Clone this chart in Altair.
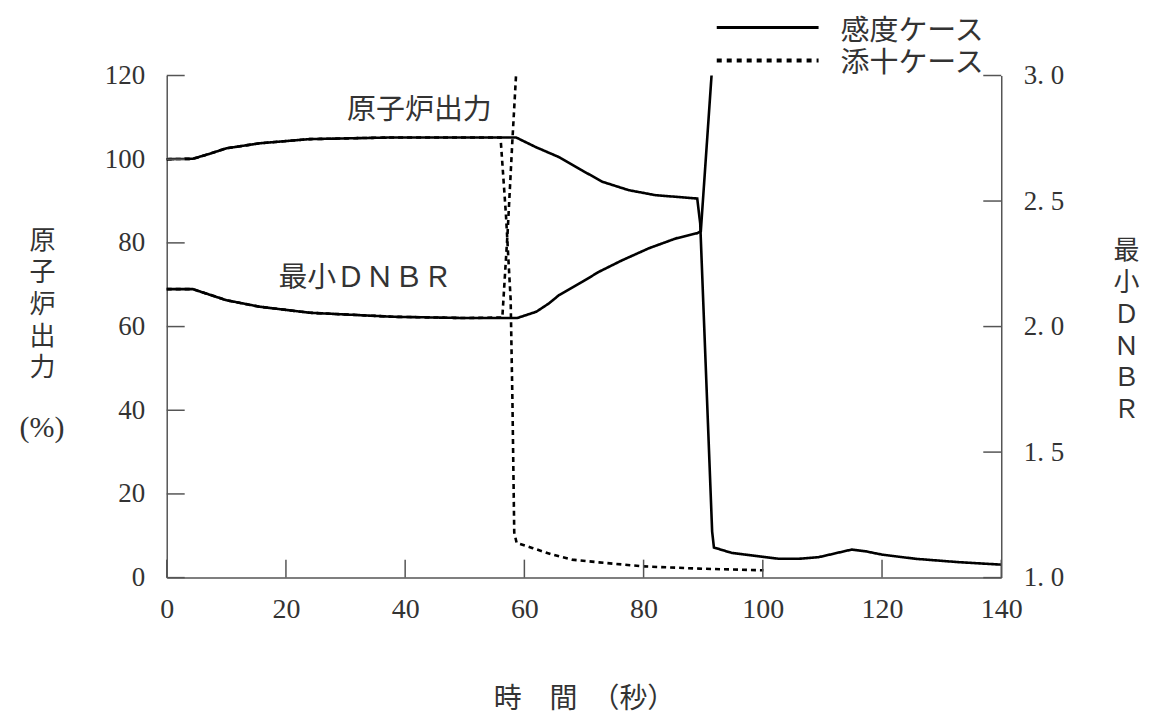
import altair as alt
import pandas as pd

# ---------------- data ----------------
cases = ["感度ケース", "添十ケース"]

# reactor power (%), sensitivity case (solid)
t_power_sens = [0, 4.4, 7, 10, 15.6, 24, 38, 58.6, 61.9, 65.8, 69.7, 73.1, 77.5, 82, 89,
                89.5, 91.5, 91.8, 94.8, 100.4, 102.7, 106, 109.4, 114.9, 117.2, 120, 125.6, 132.8, 140]
v_power_sens = [100, 100.1, 101.2, 102.6, 103.8, 104.8, 105.2, 105.2, 102.9, 100.5, 97.3, 94.6, 92.6, 91.4, 90.6,
                84.6, 11, 7.2, 5.9, 4.9, 4.5, 4.5, 4.9, 6.7, 6.3, 5.5, 4.5, 3.7, 3.1]

# reactor power (%), base case (dotted)
t_power_base = [0, 4.4, 7, 10, 15.6, 24, 38, 56.0, 56.9, 57.7, 58.0, 58.3, 58.7, 61.3, 64.7, 68, 72.5, 79.8, 89.3, 100.1]
v_power_base = [100, 100.1, 101.2, 102.6, 103.8, 104.8, 105.2, 105.2, 86.9, 66.4, 41.9, 10.8, 8.3, 7.1, 5.5, 4.3, 3.65, 2.7, 2.15, 1.75]

# minimum DNBR, sensitivity case (solid)
t_dnbr_sens = [0, 4.4, 10, 15.6, 24, 38, 50, 58.8, 62, 64.1, 65.8, 69.7, 72.5, 76.4, 80.9, 85.4, 89, 89.6, 91.4]
v_dnbr_sens = [2.149, 2.149, 2.105, 2.079, 2.055, 2.039, 2.034, 2.034, 2.059, 2.092, 2.125, 2.178, 2.218, 2.264, 2.312, 2.351, 2.372, 2.38, 3.0]

# minimum DNBR, base case (dotted)
t_dnbr_base = [0, 4.4, 10, 15.6, 24, 38, 50, 56.3, 57.2, 58.0, 58.6]
v_dnbr_base = [2.149, 2.149, 2.105, 2.079, 2.055, 2.039, 2.034, 2.036, 2.38, 2.746, 3.0]

x_ticks = [0, 20, 40, 60, 80, 100, 120, 140]
power_ticks = [0, 20, 40, 60, 80, 100, 120]
dnbr_ticks = [1.0, 1.5, 2.0, 2.5, 3.0]

x_title = "時　間　（秒）"
power_title = ["原", "子", "炉", "出", "力"]
power_unit = "(%)"
dnbr_title = ["最", "小", "Ｄ", "Ｎ", "Ｂ", "Ｒ"]

note_text = ["原子炉出力", "最小ＤＮＢＲ"]
note_t = [42.4, 33.3]
note_v = [111.8, 71.6]

# ---------------- styling ----------------
W, H = 836, 503
FONT = "Liberation Serif, Noto Sans CJK JP"
GRAY = "#555555"
TXT = "#333333"
TICK = 18


def frame(ts, vs, case):
    return pd.DataFrame({"t": ts, "v": vs, "case": case, "i": list(range(len(ts)))})


power_df = pd.concat([frame(t_power_sens, v_power_sens, cases[0]),
                      frame(t_power_base, v_power_base, cases[1])], ignore_index=True)
dnbr_df = pd.concat([frame(t_dnbr_sens, v_dnbr_sens, cases[0]),
                     frame(t_dnbr_base, v_dnbr_base, cases[1])], ignore_index=True)

x_scale = alt.Scale(domain=[0, 140], nice=False, zero=False)
yl_scale = alt.Scale(domain=[0, 120], nice=False)
yr_scale = alt.Scale(domain=[1, 3], nice=False, zero=False)
dash_scale = alt.Scale(domain=cases, range=[[1, 0], [5, 4]])

x_axis = alt.Axis(values=x_ticks, format="d", title=x_title, titleFont=FONT, titleFontSize=28,
                  titleFontWeight="normal", titleColor=TXT, titleX=W / 2, titleY=122,
                  titleAlign="center", titleBaseline="middle",
                  labelFont=FONT, labelFontSize=28, labelColor=TXT, labelPadding=18,
                  labelFlush=False, labelOverlap=False,
                  ticks=False, tickSize=0, domainColor=GRAY, domainWidth=1.5, grid=False)

yl_axis = alt.Axis(values=power_ticks, format="d", title=power_title, titleAngle=0,
                   titleX=-125, titleY=152, titleAlign="center", titleBaseline="top",
                   titleLineHeight=32, titleFont=FONT, titleFontSize=26, titleFontWeight="normal",
                   titleColor=TXT, labelFont=FONT, labelFontSize=27, labelColor=TXT,
                   labelPadding=22, labelFlush=False, labelOverlap=False,
                   ticks=False, tickSize=0, domainColor=GRAY, domainWidth=1.5, grid=False)

yr_axis = alt.Axis(orient="right", values=dnbr_ticks,
                   labelExpr="replace(format(datum.value, '.1f'), '.', '. ')",
                   title=dnbr_title, titleAngle=0, titleX=125, titleY=162, titleAlign="center",
                   titleBaseline="top", titleLineHeight=32, titleFont=FONT, titleFontSize=26,
                   titleFontWeight="normal", titleColor=TXT, labelFont=FONT, labelFontSize=27,
                   labelColor=TXT, labelPadding=22, labelFlush=False, labelOverlap=False,
                   ticks=False, tickSize=0, domainColor=GRAY, domainWidth=1.5, grid=False)

X = lambda: alt.X("t:Q", scale=x_scale, axis=x_axis)
YL = lambda: alt.Y("v:Q", scale=yl_scale, axis=yl_axis)
YR = lambda: alt.Y("v:Q", scale=yr_scale, axis=yr_axis)

# ---------------- left (power) layer ----------------
power_lines = alt.Chart(power_df).mark_line(color="black", strokeWidth=2.6).encode(
    x=X(), y=YL(),
    strokeDash=alt.StrokeDash("case:N", scale=dash_scale, legend=None),
    order=alt.Order("i:Q"),
)

left_ticks = alt.Chart(pd.DataFrame({"v": power_ticks})).mark_rule(color=GRAY, strokeWidth=1.5).encode(
    y=YL(), x=alt.value(0), x2=alt.value(TICK),
)

x_tick_marks = alt.Chart(pd.DataFrame({"t": x_ticks})).mark_rule(color=GRAY, strokeWidth=1.5).encode(
    x=X(), y=alt.value(H), y2=alt.value(H - TICK),
)

notes = alt.Chart(pd.DataFrame({"t": note_t, "v": note_v, "label": note_text})).mark_text(
    font=FONT, fontSize=29, color=TXT, align="center", baseline="middle"
).encode(x=X(), y=YL(), text="label:N")

unit_text = alt.Chart(pd.DataFrame({"label": [power_unit]})).mark_text(
    font=FONT, fontSize=30, color=TXT, align="center", baseline="middle"
).encode(x=alt.value(-125), y=alt.value(353), text="label:N")

key_solid = alt.Chart(pd.DataFrame({"case": [cases[0]]})).mark_rule(
    color="black", strokeWidth=3
).encode(x=alt.value(551), x2=alt.value(653), y=alt.value(-48))

key_dotted = alt.Chart(pd.DataFrame({"case": [cases[1]]})).mark_rule(
    color="black", strokeWidth=4, strokeDash=[5, 5]
).encode(x=alt.value(551), x2=alt.value(653), y=alt.value(-15))

key_text_solid = alt.Chart(pd.DataFrame({"case": [cases[0]]})).mark_text(
    font=FONT, fontSize=29, color=TXT, align="left", baseline="middle"
).encode(x=alt.value(675), y=alt.value(-45), text="case:N")

key_text_dotted = alt.Chart(pd.DataFrame({"case": [cases[1]]})).mark_text(
    font=FONT, fontSize=29, color=TXT, align="left", baseline="middle"
).encode(x=alt.value(675), y=alt.value(-13), text="case:N")

left_layer = alt.layer(power_lines, left_ticks, x_tick_marks, notes, unit_text,
                       key_solid, key_dotted, key_text_solid, key_text_dotted)

# ---------------- right (DNBR) layer ----------------
dnbr_lines = alt.Chart(dnbr_df).mark_line(color="black", strokeWidth=2.6).encode(
    x=X(), y=YR(),
    strokeDash=alt.StrokeDash("case:N", scale=dash_scale, legend=None),
    order=alt.Order("i:Q"),
)

right_ticks = alt.Chart(pd.DataFrame({"v": dnbr_ticks})).mark_rule(color=GRAY, strokeWidth=1.5).encode(
    y=YR(), x=alt.value(W), x2=alt.value(W - TICK),
)

right_layer = alt.layer(dnbr_lines, right_ticks)

chart = alt.layer(left_layer, right_layer).resolve_scale(y="independent").properties(
    width=W, height=H,
    autosize=alt.AutoSizeParams(type="none"),
    padding={"left": 159, "top": 67, "right": 140, "bottom": 142},
    background="white",
).configure_view(stroke=None)

chart.save("out.html", embed_options={"renderer": "svg", "actions": False})
